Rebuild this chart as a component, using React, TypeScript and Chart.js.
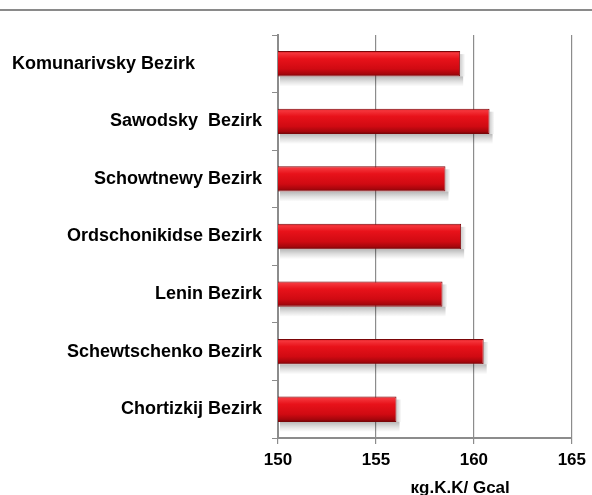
import React, { useEffect, useRef } from "react";
import { Chart, registerables } from "chart.js";

Chart.register(...registerables);

const categories = [
  "Komunarivsky Bezirk",
  "Sawodsky  Bezirk",
  "Schowtnewy Bezirk",
  "Ordschonikidse Bezirk",
  "Lenin Bezirk",
  "Schewtschenko Bezirk",
  "Chortizkij Bezirk",
];
const values = [159.3, 160.8, 158.55, 159.35, 158.4, 160.5, 156.05];
const xMin = 150;
const xMax = 165;
const xStep = 5;
const axisTitle = "кg.K.K/ Gcal";

const FONT = "'Liberation Sans', Arial, sans-serif";
const BAR_PCT = 0.44;

function barGradient(c: any) {
  const chart = c.chart;
  const yS = chart.scales && chart.scales.y;
  if (!yS || c.type !== "data" || !chart.chartArea) return "#dc1219";
  const y = yS.getPixelForValue(c.dataIndex);
  const step = Math.abs(yS.getPixelForValue(1) - yS.getPixelForValue(0));
  const h = step * BAR_PCT;
  const top = y - h / 2;
  const bottom = y + h / 2;
  const g = chart.ctx.createLinearGradient(0, top, 0, bottom);
  g.addColorStop(0, "#d0161c");
  g.addColorStop(0.08, "#f5353b");
  g.addColorStop(0.3, "#e8121a");
  g.addColorStop(0.7, "#d00a12");
  g.addColorStop(0.9, "#a6060c");
  g.addColorStop(1, "#700306");
  return g;
}

const decorPlugin = {
  id: "decor",
  beforeDraw(chart: any) {
    const ctx = chart.ctx;
    ctx.save();
    ctx.fillStyle = "#ffffff";
    ctx.fillRect(0, 0, chart.width, chart.height);
    ctx.strokeStyle = "#8a8a8a";
    ctx.lineWidth = 2;
    ctx.beginPath();
    ctx.moveTo(0, 10);
    ctx.lineTo(chart.width, 10);
    ctx.stroke();
    ctx.restore();
  },
  beforeDatasetsDraw(chart: any) {
    const ctx = chart.ctx;
    const area = chart.chartArea;
    const meta = chart.getDatasetMeta(0);
    ctx.save();
    meta.data.forEach((el: any) => {
      const { x, y, height } = el.getProps(["x", "y", "height"], true);
      const bottom = y + height / 2;
      const left = area.left + 2;
      const right = x + 3;
      const g = ctx.createLinearGradient(0, bottom, 0, bottom + 10);
      g.addColorStop(0, "rgba(0,0,0,0.28)");
      g.addColorStop(0.5, "rgba(0,0,0,0.12)");
      g.addColorStop(1, "rgba(0,0,0,0)");
      ctx.fillStyle = g;
      ctx.fillRect(left, bottom, right - left, 10);
      const g2 = ctx.createLinearGradient(right - 3, 0, right + 2, 0);
      g2.addColorStop(0, "rgba(0,0,0,0.2)");
      g2.addColorStop(1, "rgba(0,0,0,0)");
      ctx.fillStyle = g2;
      ctx.fillRect(right - 3, y - height / 2 + 3, 5, height - 3);
    });
    ctx.restore();
  },
  afterDraw(chart: any) {
    const ctx = chart.ctx;
    const yScale = chart.scales.y;
    const area = chart.chartArea;
    ctx.save();
    ctx.fillStyle = "#000000";
    ctx.font = `bold 18px ${FONT}`;
    ctx.textBaseline = "middle";
    categories.forEach((label, i) => {
      const y = yScale.getPixelForValue(i);
      if (i === 0) {
        ctx.textAlign = "left";
        ctx.fillText(label, 12, y);
      } else {
        ctx.textAlign = "right";
        ctx.fillText(label, area.left - 16, y);
      }
    });
    ctx.font = `bold 17px ${FONT}`;
    ctx.textAlign = "center";
    ctx.textBaseline = "alphabetic";
    const cx = area.left + (area.right - area.left) * 0.62;
    ctx.fillText(axisTitle, cx, chart.height - 2);
    ctx.restore();
  },
};

export default function App() {
  const ref = useRef<HTMLCanvasElement | null>(null);
  useEffect(() => {
    document.body.style.margin = "0";
    const chart = new Chart(ref.current as HTMLCanvasElement, {
      type: "bar",
      data: {
        labels: categories,
        datasets: [
          {
            data: values,
            backgroundColor: barGradient,
            borderColor: "#7a0508",
            borderWidth: 1,
            barPercentage: BAR_PCT,
            categoryPercentage: 1,
          },
        ],
      },
      options: {
        indexAxis: "y",
        animation: false,
        responsive: false,
        devicePixelRatio: 1,
        layout: { padding: { top: 35, right: 18, left: 0, bottom: 0 } },
        plugins: {
          legend: { display: false },
          tooltip: { enabled: false },
        },
        scales: {
          x: {
            type: "linear",
            min: xMin,
            max: xMax,
            ticks: {
              stepSize: xStep,
              color: "#000000",
              font: { family: FONT, size: 17, weight: "bold" },
              padding: 6,
            },
            grid: { color: "#8c8c8c", lineWidth: 1.2, tickLength: 6 },
            border: { color: "#8c8c8c", width: 2 },
            afterFit(scale: any) {
              scale.height = 57;
            },
          },
          y: {
            type: "category",
            ticks: { display: false },
            grid: {
              drawOnChartArea: false,
              color: "#8c8c8c",
              tickLength: 6,
              offset: true,
            },
            border: { color: "#8c8c8c", width: 2 },
            afterFit(scale: any) {
              scale.width = 278;
            },
          },
        },
      },
      plugins: [decorPlugin],
    } as any);
    return () => chart.destroy();
  }, []);
  return (
    <div style={{ width: 592, height: 495 }}>
      <canvas ref={ref} width={592} height={495} />
    </div>
  );
}
